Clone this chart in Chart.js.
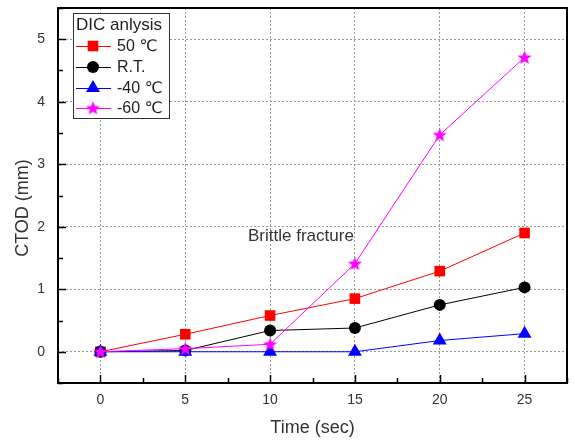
<!DOCTYPE html>
<html>
<head>
<meta charset="utf-8">
<script src="https://cdn.jsdelivr.net/npm/chart.js@4.4.0/dist/chart.umd.min.js"></script>
<style>
  html, body { margin: 0; padding: 0; background: #fff; }
  #wrap { width: 575px; height: 441px; position: relative; }
</style>
</head>
<body>
<div id="wrap"><canvas id="ctodChart"></canvas></div>
<script>
// data
const times = [0, 5, 10, 15, 20, 25];
const seriesLabels = ["50 ℃", "R.T.", "-40 ℃", "-60 ℃"];
const ctod50 = [0, 0.28, 0.58, 0.85, 1.29, 1.9];
const ctodRT = [0, 0.02, 0.34, 0.38, 0.75, 1.03];
const ctodM40 = [0, 0, 0, 0, 0.18, 0.29];
const ctodM60 = [0, 0.05, 0.12, 1.41, 3.47, 4.71];
const xTicks = [0, 5, 10, 15, 20, 25];
const yTicks = [0, 1, 2, 3, 4, 5];
const legendTitle = "DIC anlysis";
const noteText = "Brittle fracture";

const FONT = "Arial, 'Liberation Sans', 'DejaVu Sans', sans-serif";

// filled five point star, Chart.js 'star' is only lines
function makeStar(size, color) {
  const c = document.createElement("canvas");
  c.width = size;
  c.height = size;
  const g = c.getContext("2d");
  const cx = size / 2, cy = size / 2 + 0.5;
  const ro = size / 2, ri = ro * 0.42;
  g.beginPath();
  for (let i = 0; i < 10; i++) {
    const r = i % 2 === 0 ? ro : ri;
    const a = -Math.PI / 2 + (i * Math.PI) / 5;
    const px = cx + r * Math.cos(a), py = cy + r * Math.sin(a);
    if (i === 0) g.moveTo(px, py); else g.lineTo(px, py);
  }
  g.closePath();
  g.fillStyle = color;
  g.fill();
  return c;
}
const starImg = makeStar(15, "#ff00ff");

function toPoints(values) {
  return times.map((t, i) => ({ x: t, y: values[i] }));
}

function makeSet(label, values, color, style, radius, order) {
  return {
    label: label,
    data: toPoints(values),
    borderColor: color,
    backgroundColor: color,
    borderWidth: 1,
    pointStyle: style,
    pointRadius: radius,
    pointHoverRadius: radius,
    pointBorderWidth: 0,
    pointBackgroundColor: color,
    pointBorderColor: color,
    tension: 0,
    order: order,
  };
}

const datasets = [
  makeSet(seriesLabels[0], ctod50, "#ff0000", "rect", 7.5, 3),
  makeSet(seriesLabels[1], ctodRT, "#000000", "circle", 6, 2),
  makeSet(seriesLabels[2], ctodM40, "#0000ff", "triangle", 8, 1),
  makeSet(seriesLabels[3], ctodM60, "#ff00ff", starImg, 7.5, 0),
];

// frame, inward ticks, legend box and the note
const extrasPlugin = {
  id: "extras",
  afterDraw(chart) {
    const { ctx, chartArea: a, scales } = chart;
    const xs = scales.x, ys = scales.y;
    ctx.save();

    // inward ticks on left and bottom
    ctx.strokeStyle = "#000";
    ctx.lineWidth = 1.5;
    ctx.beginPath();
    for (let i = -1; i <= 11; i++) {
      const v = i * 0.5;
      const py = Math.round(ys.getPixelForValue(v)) + 0.5;
      const len = i % 2 === 0 ? 8 : 5;
      ctx.moveTo(a.left, py);
      ctx.lineTo(a.left + len, py);
    }
    for (let i = -1; i <= 11; i++) {
      const v = i * 2.5;
      const px = Math.round(xs.getPixelForValue(v)) + 0.5;
      const len = i % 2 === 0 ? 8 : 5;
      ctx.moveTo(px, a.bottom);
      ctx.lineTo(px, a.bottom - len);
    }
    ctx.stroke();

    // frame
    ctx.lineWidth = 2;
    ctx.strokeRect(a.left, a.top, a.right - a.left, a.bottom - a.top);

    // note
    ctx.fillStyle = "#333";
    ctx.font = "17px " + FONT;
    ctx.textAlign = "left";
    ctx.textBaseline = "middle";
    ctx.fillText(noteText, xs.getPixelForValue(8.7), ys.getPixelForValue(1.84));

    // legend box
    const bx = 73, by = 13, bw = 96, bh = 105;
    ctx.fillStyle = "#fff";
    ctx.fillRect(bx, by, bw, bh);
    ctx.strokeStyle = "#333";
    ctx.lineWidth = 1;
    ctx.strokeRect(bx + 0.5, by + 0.5, bw, bh);

    ctx.fillStyle = "#222";
    ctx.font = "17px " + FONT;
    ctx.fillText(legendTitle, bx + 3, by + 12);

    const rows = [46, 67, 88, 108];
    chart.data.datasets.forEach((ds, i) => {
      const ry = rows[i];
      ctx.strokeStyle = ds.borderColor;
      ctx.lineWidth = 1;
      ctx.beginPath();
      ctx.moveTo(bx + 3, ry + 0.5);
      ctx.lineTo(bx + 38, ry + 0.5);
      ctx.stroke();
      ctx.fillStyle = ds.pointBackgroundColor;
      Chart.helpers.drawPoint(ctx, {
        pointStyle: ds.pointStyle,
        radius: ds.pointRadius,
        borderWidth: 0,
        rotation: 0,
      }, bx + 20, ry);
      ctx.fillStyle = "#222";
      ctx.font = "16px " + FONT;
      ctx.fillText(ds.label, bx + 44, ry + 1);
    });

    ctx.restore();
  },
};

new Chart(document.getElementById("ctodChart"), {
  type: "line",
  data: { datasets: datasets },
  options: {
    responsive: true,
    maintainAspectRatio: false,
    animation: false,
    layout: { padding: { top: 4, right: 3, left: 0, bottom: 0 } },
    plugins: {
      legend: { display: false },
      tooltip: { enabled: false },
    },
    scales: {
      x: {
        type: "linear",
        min: -2.5,
        max: 27.5,
        afterBuildTicks: (scale) => {
          scale.ticks = xTicks.map((v) => ({ value: v }));
        },
        afterFit: (scale) => {
          scale.height = 58;
          scale.paddingLeft = 0;
          scale.paddingRight = 0;
        },
        grid: { color: "#9a9a9a", drawTicks: false, lineWidth: 1 },
        border: { display: false, dash: [2, 2] },
        ticks: {
          padding: 9,
          color: "#333",
          font: { size: 14, family: FONT },
        },
        title: {
          display: true,
          text: "Time (sec)",
          color: "#333",
          font: { size: 18, family: FONT },
          padding: { top: 0, bottom: 2 },
        },
      },
      y: {
        type: "linear",
        min: -0.5,
        max: 5.5,
        afterBuildTicks: (scale) => {
          scale.ticks = yTicks.map((v) => ({ value: v }));
        },
        afterFit: (scale) => {
          scale.width = 58;
          scale.paddingTop = 0;
          scale.paddingBottom = 0;
        },
        grid: { color: "#9a9a9a", drawTicks: false, lineWidth: 1 },
        border: { display: false, dash: [2, 2] },
        ticks: {
          padding: 13,
          color: "#333",
          font: { size: 14, family: FONT },
        },
        title: {
          display: true,
          text: "CTOD (mm)     ",
          color: "#333",
          font: { size: 18, family: FONT },
          padding: { top: 12, bottom: 0 },
        },
      },
    },
  },
  plugins: [extrasPlugin],
});
</script>
</body>
</html>
